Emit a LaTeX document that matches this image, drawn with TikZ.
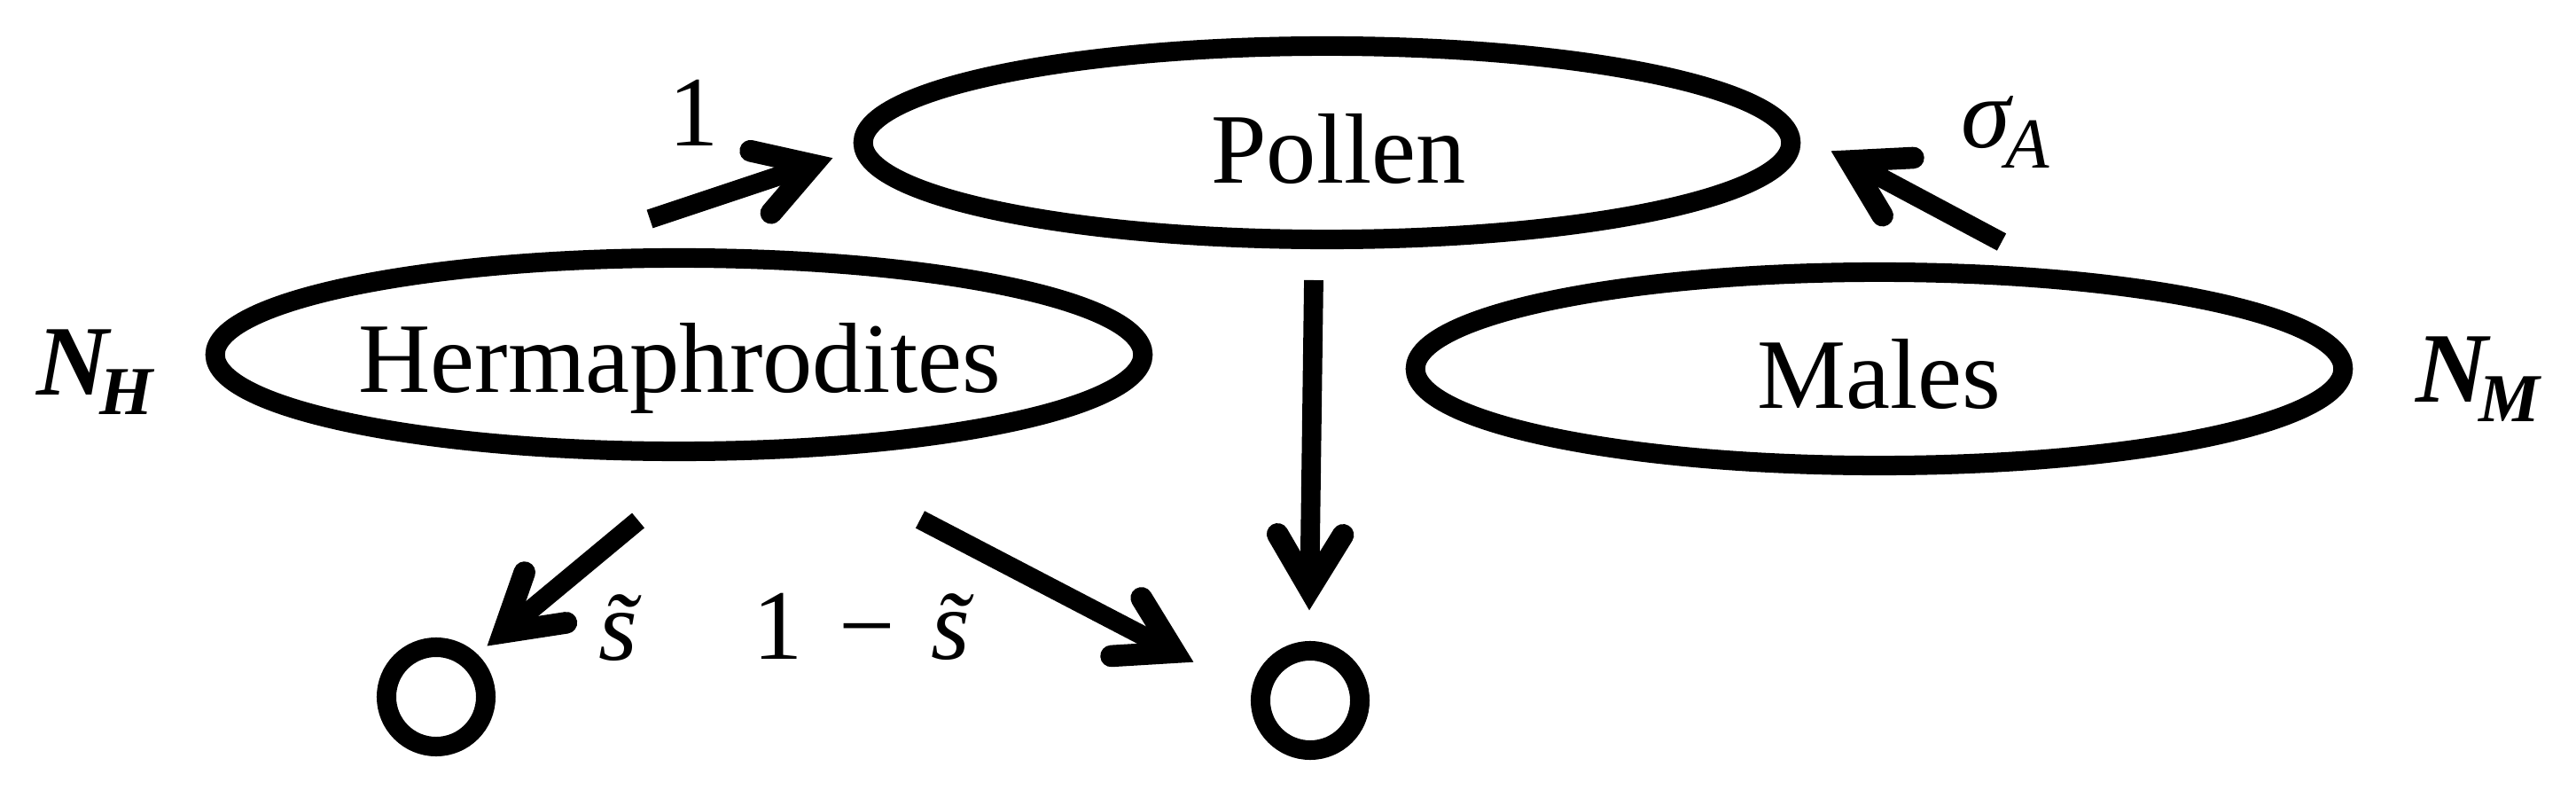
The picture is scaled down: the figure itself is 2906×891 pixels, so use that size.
\documentclass[tikz,border=0pt]{standalone}
\usepackage{fontspec}
\setmainfont{Liberation Serif}
\usetikzlibrary{shapes.geometric}
\pgfdeclarearrow{
  name = Chev,
  setup code = {
    \pgfarrowssettipend{0pt}
    \pgfarrowssetlineend{-12pt}
    \pgfarrowssetbackend{-28pt}
    \pgfarrowshullpoint{0pt}{0pt}
    \pgfarrowsupperhullpoint{-28pt}{14pt}
  },
  drawing code = {
    \pgfsetlinewidth{7pt}
    \pgfsetroundcap
    \pgfsetmiterjoin
    \pgfsetdash{}{0pt}
    \pgfpathmoveto{\pgfpoint{-24.5pt}{10.5pt}}
    \pgfpathlineto{\pgfpoint{-7pt}{0pt}}
    \pgfpathlineto{\pgfpoint{-24.5pt}{-10.5pt}}
    \pgfusepathqstroke
  }
}
\newcommand{\tils}{\textit{\~{s}}}
\begin{document}
\begin{tikzpicture}[x=0.01cm,y=-0.01cm,
  oval/.style={draw,ellipse,line width=6.26pt,minimum width=10.46cm,minimum height=2.18cm,inner sep=0pt},
  dot/.style={draw,circle,line width=6.26pt,minimum size=1.12cm,inner sep=0pt},
  lbl/.style={anchor=base,inner sep=0pt,font=\fontsize{32}{38}\selectfont},
  arr/.style={line width=6.2pt,-Chev}]
\useasboundingbox (0,0) rectangle (2906,891);
% ellipses
\node[oval] (pollen) at (1497,161) {};
\node[oval] (herm) at (766,400) {};
\node[oval] (males) at (2120,416) {};
% circles
\node[dot] (lc) at (492,786) {};
\node[dot] (rc) at (1478,790) {};
% texts
\node[lbl] (tp) at (1510,207) {Pollen};
\node[lbl] (th) at (767,442) {Hermaphrodites};
\node[lbl] (tm) at (2120,460) {Males};
\node[lbl] (one) at (783,165) {1};
\node[lbl] (sig) at (2262,167) {\textit{σ}\kern-0.08em\raisebox{-0.2em}{\fontsize{23}{23}\selectfont\textit{A}}};
\node[lbl] (nh) at (108,445) {\textbf{\textit{N}}\kern-0.12em\raisebox{-0.2em}{\fontsize{22}{22}\selectfont\textbf{\textit{H}}}};
\node[lbl] (nm) at (2796,453) {\textbf{\textit{N}}\kern-0.12em\raisebox{-0.2em}{\fontsize{22}{22}\selectfont\textbf{\textit{M}}}};
\node[lbl] (s1) at (720,744) {\tils};
\node[lbl] (s2) at (994,743) {1\hspace{0.36em}−\hspace{0.36em}\tils};
% arrow end points
\coordinate (a1s) at (733,247);
\coordinate (a1e) at (940,178);
\coordinate (a2s) at (2258,273);
\coordinate (a2e) at (2065,170);
\coordinate (a3s) at (1482,316);
\coordinate (a3e) at (1477,689);
\coordinate (a4s) at (720,587);
\coordinate (a4e) at (549,729);
\coordinate (a5s) at (1038,586);
\coordinate (a5e) at (1347,747);
\draw[arr] (a1s) -- (a1e);
\draw[arr] (a2s) -- (a2e);
\draw[arr] (a3s) -- (a3e);
\draw[arr] (a4s) -- (a4e);
\draw[arr] (a5s) -- (a5e);
\end{tikzpicture}
\end{document}
